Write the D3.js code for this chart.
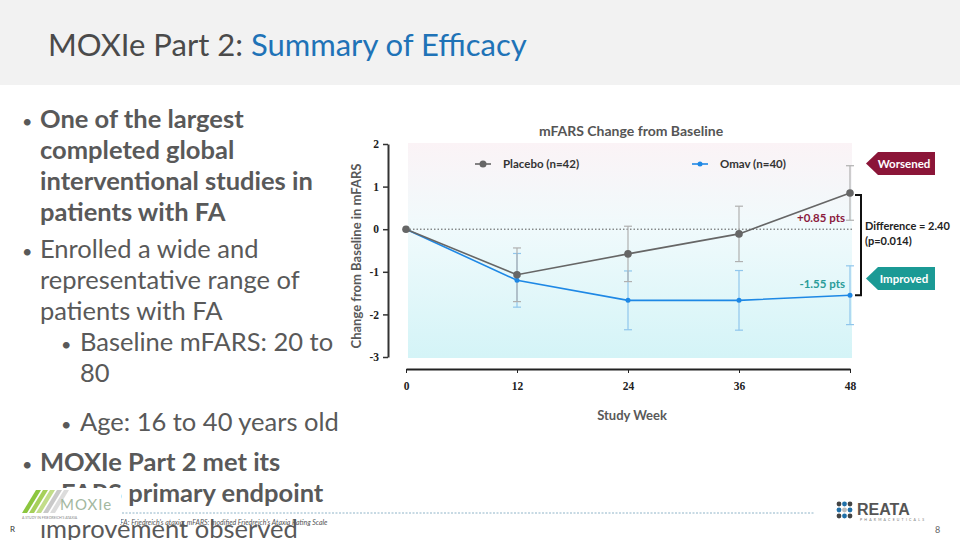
<!DOCTYPE html>
<html><head><meta charset="utf-8">
<script src="https://cdn.jsdelivr.net/npm/d3@7"></script>
<style>
html,body{margin:0;padding:0;background:#fff;}
svg{display:block;}
</style></head>
<body>
<svg id="slide" width="960" height="540"></svg>
<script>
// ---------- data ----------
const weeks = [0, 12, 24, 36, 48];
const placeboMean = [0, -1.07, -0.58, -0.11, 0.85];
const placeboErr = [0, 0.63, 0.65, 0.65, 0.64];
const omavMean = [0, -1.20, -1.67, -1.67, -1.55];
const omavErr = [0, 0.63, 0.69, 0.70, 0.69];
const yTicks = [2, 1, 0, -1, -2, -3];
const xTicks = [0, 12, 24, 36, 48];
const seriesNames = ["Placebo (n=42)", "Omav (n=40)"];
const endLabels = ["+0.85 pts", "-1.55 pts"];
const diffLines = ["Difference = 2.40", "(p=0.014)"];
const tagLabels = ["Worsened", "Improved"];

const svg = d3.select("#slide");
const SANS = "Lato, 'Open Sans', sans-serif";

// ---------- header ----------
svg.append("rect").attr("x",0).attr("y",0).attr("width",960).attr("height",85).attr("fill","#f2f2f2");
const ttl = svg.append("text").attr("x",48).attr("y",56).attr("font-family",SANS).attr("font-size",31);
ttl.append("tspan").attr("fill","#4a4a4a").text("MOXIe Part 2: ");
ttl.append("tspan").attr("fill","#1f73b7").text("Summary of Efficacy");

// ---------- bullets ----------
const bullets = [
  {lvl:0, bold:true, lines:["One of the largest","completed global","interventional studies in","patients with FA"], y:[128,159,190,221]},
  {lvl:0, bold:false, lines:["Enrolled a wide and","representative range of","patients with FA"], y:[258,289,320]},
  {lvl:1, bold:false, lines:["Baseline mFARS: 20 to","80"], y:[351,382]},
  {lvl:1, bold:false, lines:["Age: 16 to 40 years old"], y:[431]},
  {lvl:0, bold:true, lines:["MOXIe Part 2 met its","mFARS primary endpoint"], y:[471,502]},
  {lvl:0, bold:false, nob:true, lines:["improvement observed"], y:[538]}
];
const bl = svg.append("g").attr("font-family",SANS).attr("fill","#595959").attr("font-size",25.5);
bullets.forEach(b=>{
  const tx = b.lvl===0 ? 40 : 80;
  const bx = b.lvl===0 ? 22 : 61;
  if(!b.nob) bl.append("text").attr("x",bx).attr("y",b.y[0]).attr("font-size",18).text("•");
  b.lines.forEach((l,i)=>{
    bl.append("text").attr("x",tx).attr("y",b.y[i]).attr("font-weight",b.bold?"bold":"normal").text(l);
  });
});

// ---------- chart ----------
const x = d3.scaleLinear().domain([0,48]).range([406,850]);
const y = d3.scaleLinear().domain([-3,2]).range([357,144]);

const defs = svg.append("defs");
const grad = defs.append("linearGradient").attr("id","bg").attr("x1",0).attr("y1",0).attr("x2",0).attr("y2",1);
grad.append("stop").attr("offset","0%").attr("stop-color","#fbf3f6");
grad.append("stop").attr("offset","40%").attr("stop-color","#f0fafc");
grad.append("stop").attr("offset","100%").attr("stop-color","#d4f4f7");
svg.append("rect").attr("x",408).attr("y",y(2)-1).attr("width",444).attr("height",y(-3)-y(2)+2).attr("fill","url(#bg)");

// title
svg.append("text").attr("x",631).attr("y",136).attr("text-anchor","middle").attr("font-family",SANS)
  .attr("font-weight","bold").attr("font-size",14).attr("fill","#555").text("mFARS Change from Baseline");

// zero dotted line
svg.append("line").attr("x1",x(0)).attr("x2",852).attr("y1",y(0)).attr("y2",y(0))
  .attr("stroke","#555").attr("stroke-width",1).attr("stroke-dasharray","1.5,2");

// y axis
const yAxis = d3.axisLeft(y).tickValues(yTicks).tickSize(5).tickSizeOuter(0).tickFormat(d=>String(d));
const gy = svg.append("g").attr("transform","translate(388,0)").call(yAxis);
gy.select(".domain").attr("stroke","#333").attr("stroke-width",2);
gy.selectAll(".tick line").attr("stroke","#333").attr("stroke-width",1.5);
gy.selectAll(".tick text").attr("font-family","'Liberation Serif', serif").attr("font-weight","bold")
  .attr("font-size",11.5).attr("fill","#222").attr("x",-9);

// x axis
const xAxis = d3.axisBottom(x).tickValues(xTicks).tickSize(4).tickSizeOuter(0).tickFormat(d=>String(d));
const gx = svg.append("g").attr("transform","translate(0,369)").call(xAxis);
gx.select(".domain").attr("stroke","#222").attr("stroke-width",2);
gx.selectAll(".tick line").attr("stroke","#222").attr("stroke-width",1);
gx.selectAll(".tick text").attr("font-family","'Liberation Serif', serif").attr("font-weight","bold")
  .attr("font-size",11.5).attr("fill","#222").attr("y",13);

// axis labels
svg.append("text").attr("x",632).attr("y",420).attr("text-anchor","middle").attr("font-family",SANS)
  .attr("font-weight","bold").attr("font-size",13).attr("fill","#595959").text("Study Week");
svg.append("text").attr("transform","translate(361,256) rotate(-90)").attr("text-anchor","middle")
  .attr("font-family",SANS).attr("font-weight","bold").attr("font-size",13).attr("fill","#595959")
  .text("Change from Baseline in mFARS");

// series
const series = [
  {mean:omavMean, err:omavErr, line:"#1e88e5", bar:"#90c6ec", r:2.5},
  {mean:placeboMean, err:placeboErr, line:"#666666", bar:"#b0b0b0", r:3.8}
];
const gErr = svg.append("g"), gLines = svg.append("g"), gPts = svg.append("g");
series.forEach(s=>{
  weeks.forEach((w,i)=>{
    if(s.err[i]===0) return;
    const lo = s.mean[i]-s.err[i], hi = s.mean[i]+s.err[i];
    gErr.append("line").attr("x1",x(w)).attr("x2",x(w)).attr("y1",y(hi)).attr("y2",y(lo)).attr("stroke",s.bar).attr("stroke-width",1.2);
    [hi,lo].forEach(v=>gErr.append("line").attr("x1",x(w)-4).attr("x2",x(w)+4).attr("y1",y(v)).attr("y2",y(v)).attr("stroke",s.bar).attr("stroke-width",1.2));
  });
  const ln = d3.line().x((d,i)=>x(weeks[i])).y(d=>y(d));
  gLines.append("path").attr("d",ln(s.mean)).attr("fill","none").attr("stroke",s.line).attr("stroke-width",1.6);
  s.mean.forEach((m,i)=>gPts.append("circle").attr("cx",x(weeks[i])).attr("cy",y(m)).attr("r",s.r).attr("fill",s.line));
});

// legend
const leg = [
  {x:483, color:"#666666", r:3.5, label:seriesNames[0]},
  {x:700, color:"#1e88e5", r:2.5, label:seriesNames[1]}
];
leg.forEach(l=>{
  svg.append("line").attr("x1",l.x-8).attr("x2",l.x+8).attr("y1",164).attr("y2",164).attr("stroke",l.color).attr("stroke-width",1.6);
  svg.append("circle").attr("cx",l.x).attr("cy",164).attr("r",l.r).attr("fill",l.color);
  svg.append("text").attr("x",l.x+20).attr("y",168).attr("font-family",SANS).attr("font-weight","bold")
    .attr("font-size",11.5).attr("fill","#333").text(l.label);
});

// end labels
svg.append("text").attr("x",845).attr("y",222).attr("text-anchor","end").attr("font-family",SANS)
  .attr("font-weight","bold").attr("font-size",11.5).attr("fill","#8b1a3d").text(endLabels[0]);
svg.append("text").attr("x",845).attr("y",288).attr("text-anchor","end").attr("font-family",SANS)
  .attr("font-weight","bold").attr("font-size",11.5).attr("fill","#2a9c99").text(endLabels[1]);

// bracket
const by1 = y(placeboMean[4]), by2 = y(omavMean[4]);
svg.append("path").attr("d",`M855,${by1+2}H861V${by2}H855`).attr("fill","none").attr("stroke","#111").attr("stroke-width",2);
diffLines.forEach((t,i)=>svg.append("text").attr("x",865).attr("y",230+i*15).attr("font-family",SANS)
  .attr("font-weight","bold").attr("font-size",11).attr("fill","#222").text(t));

// tags
const tags = [{y:152, fill:"#8b1538", label:tagLabels[0]},{y:267, fill:"#1b9a95", label:tagLabels[1]}];
tags.forEach(t=>{
  const h=23;
  svg.append("path").attr("d",`M866,${t.y+h/2}L878,${t.y}H935V${t.y+h}H878Z`).attr("fill",t.fill);
  svg.append("text").attr("x",904).attr("y",t.y+16).attr("text-anchor","middle").attr("font-family",SANS)
    .attr("font-weight","bold").attr("font-size",11.5).attr("fill","#fff").text(t.label);
});

// ---------- footer ----------
svg.append("line").attr("x1",122).attr("x2",814).attr("y1",513).attr("y2",513)
  .attr("stroke","#8fb4c8").attr("stroke-width",1).attr("stroke-dasharray","2,1.5");
svg.append("text").attr("x",120).attr("y",525).attr("font-family",SANS).attr("font-style","italic")
  .attr("font-size",7).attr("fill","#555").text("FA: Friedreich's ataxia; mFARS: modified Friedreich's Ataxia Rating Scale");

// MOXIe logo
const lg = svg.append("g");
lg.append("rect").attr("x",18).attr("y",488).attr("width",103).attr("height",36).attr("fill","#fff");
const stripeCols = ["#8cc63f","#a6d05a","#c2dd8a","#c9c9c9","#dcdcdc"];
stripeCols.forEach((c,i)=>{
  const x0 = 22+i*7;
  lg.append("path").attr("d",`M${x0},513L${x0+14},490H${x0+19}L${x0+5},513Z`).attr("fill",c);
});
lg.append("text").attr("x",60).attr("y",510).attr("font-family",SANS).attr("font-size",15).attr("fill","#a3b8a0")
  .attr("letter-spacing",1).text("MOXIe");
lg.append("text").attr("x",22).attr("y",519).attr("font-family",SANS).attr("font-size",3.5).attr("fill","#888")
  .text("A  STUDY  IN  FRIEDREICH'S  ATAXIA");
svg.append("text").attr("x",10).attr("y",532).attr("font-family",SANS).attr("font-size",8).attr("fill","#333").text("R");

// REATA logo
const rg = svg.append("g");
const dotCols = [["#444","#1f6fa8","#444"],["#1f6fa8","#bbb","#1f6fa8"],["#444","#1f6fa8","#444"]];
for(let r=0;r<3;r++) for(let c=0;c<3;c++){
  rg.append("circle").attr("cx",839+c*5.5).attr("cy",504+r*6).attr("r",2.4).attr("fill",dotCols[c][r]);
}
rg.append("text").attr("x",857).attr("y",515).attr("font-family","'Liberation Sans', sans-serif").attr("font-weight","bold")
  .attr("font-size",16).attr("fill","#555").text("REATA");
rg.append("text").attr("x",860).attr("y",521).attr("font-family",SANS).attr("font-size",3.5).attr("fill","#777")
  .attr("letter-spacing",2.2).text("PHARMACEUTICALS");
svg.append("text").attr("x",935).attr("y",533).attr("font-family",SANS).attr("font-size",9).attr("fill","#666").text("8");
</script>
</body></html>
